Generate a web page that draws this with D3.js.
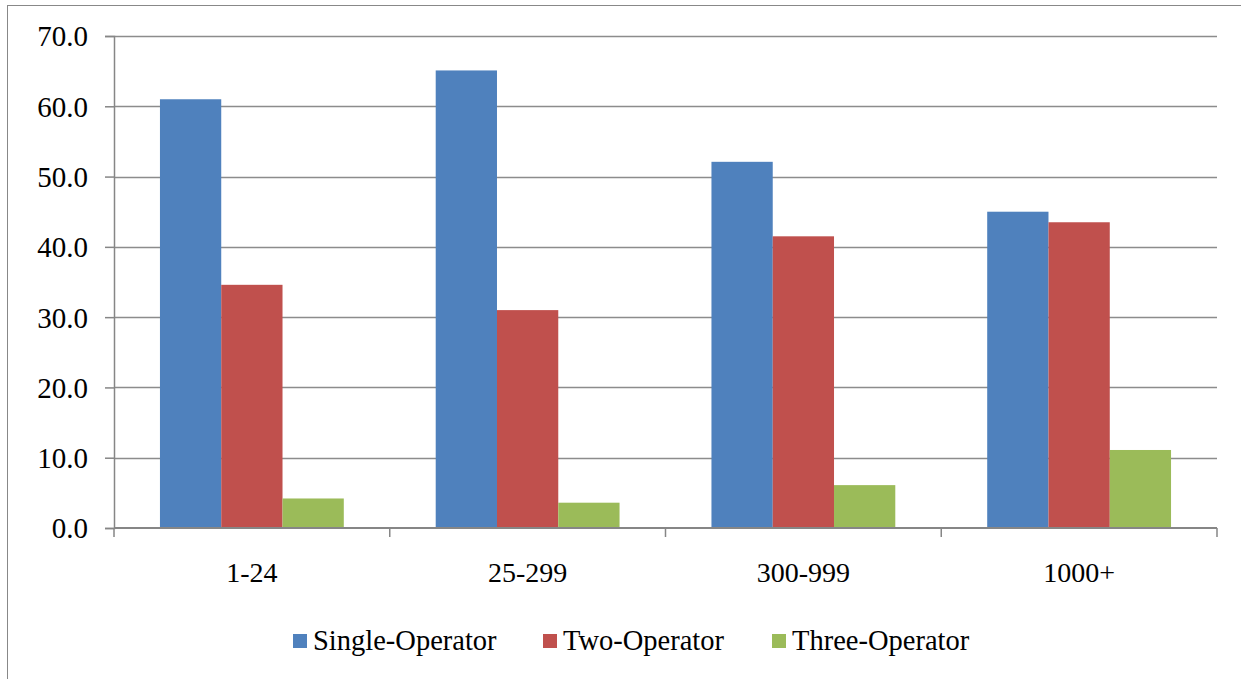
<!DOCTYPE html>
<html>
<head>
<meta charset="utf-8">
<script src="https://cdn.jsdelivr.net/npm/d3@7"></script>
<style>
  body { margin: 0; background: #fff; }
</style>
</head>
<body>
<div id="chart"></div>
<script>
// chart data
const categories = ["1-24", "25-299", "300-999", "1000+"];
const seriesNames = ["Single-Operator", "Two-Operator", "Three-Operator"];
const singleOperator = [61.0, 65.1, 52.1, 45.0];
const twoOperator = [34.6, 31.0, 41.5, 43.5];
const threeOperator = [4.2, 3.6, 6.1, 11.1];
const yTicks = [0, 10, 20, 30, 40, 50, 60, 70];
const colors = ["#4F81BD", "#C0504D", "#9BBB59"];

const seriesValues = [singleOperator, twoOperator, threeOperator];
const data = categories.map((c, i) => ({
    category: c,
    values: seriesNames.map((s, j) => ({ series: s, value: seriesValues[j][i], idx: j }))
}));

const FONT = "'Liberation Serif'";
const W = 1241, H = 679;
const margin = { top: 36, left: 114 },
      width = 1217 - margin.left,
      height = 528 - margin.top;

const svg = d3.select("#chart").append("svg")
    .attr("width", W)
    .attr("height", H);

// outer chart frame
svg.append("rect")
    .attr("x", 7.5).attr("y", 5.5)
    .attr("width", W).attr("height", H)
    .attr("fill", "none")
    .attr("stroke", "#888")
    .attr("stroke-width", 1);

const g = svg.append("g")
    .attr("transform", `translate(${margin.left},${margin.top})`);

const x = d3.scaleBand()
    .domain(categories)
    .range([0, width])
    .padding(0);

// Excel style gap: 150% of a bar width on each band
const x1 = d3.scaleBand()
    .domain(seriesNames)
    .range([0, x.bandwidth()])
    .paddingOuter(0.75)
    .paddingInner(0);

const y = d3.scaleLinear()
    .domain([0, 70])
    .range([height, 0]);

// gridlines
g.append("g")
    .selectAll("line")
    .data(yTicks.filter(d => d > 0))
    .join("line")
    .attr("x1", 0).attr("x2", width)
    .attr("y1", d => Math.round(y(d)) + 0.5)
    .attr("y2", d => Math.round(y(d)) + 0.5)
    .attr("stroke", "#8c8c8c")
    .attr("stroke-width", 1.5);

// bars
const groups = g.selectAll("g.cat")
    .data(data)
    .join("g")
    .attr("class", "cat")
    .attr("transform", d => `translate(${x(d.category)},0)`);

groups.selectAll("rect")
    .data(d => d.values)
    .join("rect")
    .attr("x", d => x1(d.series))
    .attr("width", x1.bandwidth())
    .attr("y", d => y(d.value))
    .attr("height", d => height - y(d.value))
    .attr("fill", d => colors[d.idx]);

// y axis
const yAxis = d3.axisLeft(y)
    .tickValues(yTicks)
    .tickSize(9)
    .tickPadding(17)
    .tickFormat(d => d.toFixed(1));

const yAxisGroup = g.append("g").call(yAxis);
yAxisGroup.attr("font-family", FONT).attr("font-size", 29);
yAxisGroup.select(".domain").attr("stroke", "#868686").attr("stroke-width", 1.5);
yAxisGroup.selectAll(".tick line").attr("stroke", "#868686").attr("stroke-width", 1.5);
yAxisGroup.selectAll("text")
    .attr("dy", "0.34em")
    .style("font-family", FONT)
    .style("font-size", "29px")
    .attr("fill", "#000");

// x axis
const xAxisGroup = g.append("g")
    .attr("transform", `translate(0,${height})`);

xAxisGroup.append("line")
    .attr("x1", 0).attr("x2", width)
    .attr("y1", 0).attr("y2", 0)
    .attr("stroke", "#868686")
    .attr("stroke-width", 2);

xAxisGroup.selectAll("line.tick")
    .data(d3.range(categories.length + 1))
    .join("line")
    .attr("class", "tick")
    .attr("x1", i => i * x.bandwidth())
    .attr("x2", i => i * x.bandwidth())
    .attr("y1", 0).attr("y2", 9)
    .attr("stroke", "#868686")
    .attr("stroke-width", 1.5);

xAxisGroup.selectAll("text")
    .data(categories)
    .join("text")
    .attr("x", d => x(d) + x.bandwidth() / 2)
    .attr("y", 54)
    .attr("text-anchor", "middle")
    .style("font-family", FONT)
    .style("font-size", "28px")
    .attr("fill", "#000")
    .text(d => d);

// legend
const legendX = [293, 543, 772];
const legend = svg.append("g");
seriesNames.forEach((s, i) => {
    legend.append("rect")
        .attr("x", legendX[i]).attr("y", 634)
        .attr("width", 14).attr("height", 14)
        .attr("fill", colors[i]);
    legend.append("text")
        .attr("x", legendX[i] + 20)
        .attr("y", 650)
        .style("font-family", FONT)
        .style("font-size", "28.5px")
        .attr("fill", "#000")
        .text(s);
});
</script>
</body>
</html>
